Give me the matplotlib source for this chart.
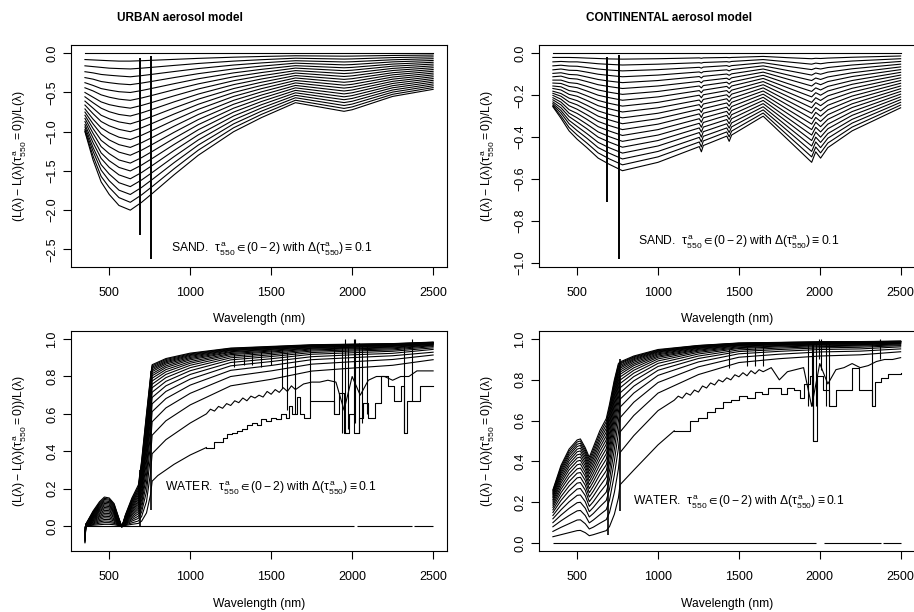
import numpy as np
import matplotlib
matplotlib.use("Agg")
import matplotlib.pyplot as plt
from matplotlib.ticker import MultipleLocator

plt.rcParams['font.family'] = ['Liberation Sans', 'DejaVu Sans']
plt.rcParams['mathtext.fontset'] = 'custom'
plt.rcParams['mathtext.rm'] = 'Liberation Sans'
plt.rcParams['mathtext.it'] = 'Liberation Sans'
plt.rcParams['mathtext.bf'] = 'Liberation Sans:bold'
plt.rcParams['mathtext.sf'] = 'Liberation Sans'
plt.rcParams['mathtext.fallback'] = 'stixsans'

# aerosol optical depth at 550 nm, one curve per value
tau = [0.0, 0.1, 0.2, 0.3, 0.4, 0.5, 0.6, 0.7, 0.8, 0.9, 1.0,
       1.1, 1.2, 1.3, 1.4, 1.5, 1.6, 1.7, 1.8, 1.9, 2.0]

# ---------------- URBAN / SAND ----------------
# each inner list: values of the 21 curves at one wavelength
urban_sand_wl = [350, 400, 450, 500, 560, 630, 700, 770, 900, 1050, 1268,
                 1440, 1650, 1950, 2000, 2250, 2500]
urban_sand_cols = [
    [0, -.08, -.16, -.235, -.31, -.375, -.44, -.5, -.555, -.61, -.66, -.71, -.75, -.79, -.83, -.87, -.91, -.94, -.97, -.99, -1.0],
    [0, -.085, -.17, -.25, -.33, -.41, -.48, -.56, -.63, -.7, -.77, -.84, -.9, -.96, -1.02, -1.08, -1.14, -1.2, -1.25, -1.31, -1.36],
    [0, -.09, -.18, -.27, -.36, -.45, -.53, -.62, -.7, -.79, -.87, -.95, -1.03, -1.11, -1.19, -1.27, -1.34, -1.42, -1.49, -1.57, -1.64],
    [0, -.095, -.19, -.28, -.375, -.47, -.56, -.655, -.745, -.835, -.925, -1.015, -1.105, -1.19, -1.28, -1.37, -1.455, -1.54, -1.625, -1.71, -1.8],
    [0, -.1, -.195, -.29, -.39, -.49, -.585, -.68, -.78, -.875, -.97, -1.07, -1.165, -1.26, -1.36, -1.455, -1.55, -1.65, -1.745, -1.84, -1.94],
    [0, -.1, -.2, -.3, -.4, -.5, -.6, -.7, -.8, -.9, -1.0, -1.1, -1.2, -1.3, -1.4, -1.5, -1.6, -1.7, -1.8, -1.9, -2.0],
    [0, -.095, -.19, -.285, -.38, -.475, -.57, -.665, -.76, -.855, -.95, -1.045, -1.14, -1.235, -1.33, -1.425, -1.52, -1.615, -1.71, -1.805, -1.9],
    [0, -.089, -.178, -.267, -.356, -.445, -.534, -.623, -.712, -.801, -.89, -.979, -1.068, -1.157, -1.246, -1.335, -1.424, -1.513, -1.602, -1.691, -1.78],
    [0, -.078, -.155, -.233, -.31, -.388, -.465, -.543, -.62, -.698, -.775, -.853, -.93, -1.008, -1.085, -1.163, -1.24, -1.318, -1.395, -1.473, -1.55],
    [0, -.065, -.13, -.195, -.26, -.325, -.39, -.455, -.52, -.585, -.65, -.715, -.78, -.845, -.91, -.975, -1.04, -1.105, -1.17, -1.235, -1.3],
    [0, -.05, -.1, -.15, -.2, -.25, -.3, -.35, -.4, -.45, -.5, -.55, -.6, -.65, -.7, -.75, -.8, -.85, -.9, -.95, -1.0],
    [0, -.041, -.082, -.123, -.164, -.205, -.246, -.287, -.328, -.369, -.41, -.451, -.492, -.533, -.574, -.615, -.656, -.697, -.738, -.779, -.82],
    [0, -.032, -.063, -.095, -.126, -.158, -.189, -.221, -.252, -.284, -.315, -.347, -.378, -.41, -.441, -.473, -.504, -.536, -.567, -.599, -.63],
    [0, -.037, -.074, -.111, -.148, -.185, -.222, -.259, -.296, -.333, -.37, -.407, -.444, -.481, -.518, -.555, -.592, -.629, -.666, -.703, -.74],
    [0, -.036, -.072, -.108, -.144, -.18, -.216, -.252, -.288, -.324, -.36, -.396, -.432, -.468, -.504, -.54, -.576, -.612, -.648, -.684, -.72],
    [0, -.028, -.055, -.083, -.11, -.138, -.165, -.193, -.22, -.248, -.275, -.303, -.33, -.358, -.385, -.413, -.44, -.468, -.495, -.523, -.55],
    [0, -.023, -.046, -.069, -.092, -.115, -.138, -.161, -.184, -.207, -.23, -.253, -.276, -.299, -.322, -.345, -.368, -.391, -.414, -.437, -.46],
]
# O2 absorption spikes: wavelength, upper and lower end
urban_sand_o2_wl = [687, 760]
urban_sand_o2_hi = [-0.06, -0.03]
urban_sand_o2_lo = [-2.32, -2.62]

# ---------------- CONTINENTAL / SAND ----------------
cont_sand_wl = [350, 400, 450, 500, 560, 630, 700, 780, 1000, 1255, 1268, 1280,
                1425, 1440, 1455, 1650, 1800, 1950, 1975, 2005, 2050, 2200, 2500]
cont_sand_cols = [
    [0, -.02, -.041, -.06, -.079, -.096, -.112, -.128, -.142, -.156, -.168, -.181, -.191, -.201, -.212, -.222, -.232, -.24, -.247, -.252, -.255],
    [0, -.02, -.039, -.057, -.075, -.093, -.109, -.128, -.144, -.16, -.175, -.192, -.205, -.219, -.233, -.246, -.26, -.273, -.285, -.299, -.31],
    [0, -.02, -.041, -.061, -.081, -.101, -.12, -.14, -.158, -.178, -.196, -.214, -.232, -.25, -.269, -.286, -.302, -.32, -.336, -.354, -.37],
    [0, -.021, -.041, -.062, -.082, -.103, -.123, -.144, -.164, -.185, -.205, -.226, -.246, -.267, -.287, -.308, -.328, -.349, -.369, -.39, -.41],
    [0, -.023, -.045, -.068, -.09, -.113, -.135, -.158, -.18, -.203, -.225, -.248, -.27, -.293, -.315, -.338, -.36, -.383, -.405, -.428, -.45],
    [0, -.025, -.05, -.075, -.1, -.125, -.15, -.175, -.2, -.225, -.25, -.275, -.3, -.325, -.35, -.375, -.4, -.425, -.45, -.475, -.5],
    [0, -.027, -.053, -.08, -.106, -.133, -.159, -.186, -.212, -.239, -.265, -.292, -.318, -.345, -.371, -.398, -.424, -.451, -.477, -.504, -.53],
    [0, -.028, -.056, -.084, -.112, -.14, -.168, -.196, -.224, -.252, -.28, -.308, -.336, -.364, -.392, -.42, -.448, -.476, -.504, -.532, -.56],
    [0, -.026, -.052, -.078, -.104, -.13, -.156, -.182, -.208, -.234, -.26, -.286, -.312, -.338, -.364, -.39, -.416, -.442, -.468, -.494, -.52],
    [0, -.022, -.045, -.067, -.089, -.111, -.134, -.156, -.178, -.2, -.223, -.245, -.267, -.289, -.312, -.334, -.356, -.378, -.401, -.423, -.445],
    [0, -.024, -.047, -.071, -.094, -.118, -.141, -.165, -.188, -.212, -.235, -.259, -.282, -.306, -.329, -.353, -.376, -.4, -.423, -.447, -.47],
    [0, -.022, -.044, -.066, -.088, -.11, -.132, -.154, -.176, -.198, -.22, -.242, -.264, -.286, -.308, -.33, -.352, -.374, -.396, -.418, -.44],
    [0, -.02, -.04, -.059, -.079, -.099, -.119, -.138, -.158, -.178, -.198, -.217, -.237, -.257, -.277, -.296, -.316, -.336, -.356, -.375, -.395],
    [0, -.021, -.042, -.063, -.084, -.105, -.126, -.147, -.168, -.189, -.21, -.231, -.252, -.273, -.294, -.315, -.336, -.357, -.378, -.399, -.42],
    [0, -.02, -.039, -.059, -.078, -.098, -.117, -.137, -.156, -.176, -.195, -.215, -.234, -.254, -.273, -.293, -.312, -.332, -.351, -.371, -.39],
    [0, -.015, -.03, -.045, -.06, -.075, -.09, -.105, -.12, -.135, -.15, -.165, -.18, -.195, -.21, -.225, -.24, -.255, -.27, -.285, -.3],
    [0, -.021, -.041, -.062, -.082, -.103, -.123, -.144, -.164, -.185, -.205, -.226, -.246, -.267, -.287, -.308, -.328, -.349, -.369, -.39, -.41],
    [0, -.026, -.052, -.078, -.104, -.13, -.156, -.182, -.208, -.234, -.26, -.286, -.312, -.338, -.364, -.39, -.416, -.442, -.468, -.494, -.52],
    [0, -.024, -.047, -.071, -.094, -.118, -.141, -.165, -.188, -.212, -.235, -.259, -.282, -.306, -.329, -.353, -.376, -.4, -.423, -.447, -.47],
    [0, -.025, -.05, -.075, -.1, -.125, -.15, -.175, -.2, -.225, -.25, -.275, -.3, -.325, -.35, -.375, -.4, -.425, -.45, -.475, -.5],
    [0, -.023, -.045, -.068, -.09, -.113, -.135, -.158, -.18, -.203, -.225, -.248, -.27, -.293, -.315, -.338, -.36, -.383, -.405, -.428, -.45],
    [0, -.019, -.037, -.056, -.074, -.093, -.111, -.13, -.148, -.167, -.185, -.204, -.222, -.241, -.259, -.278, -.296, -.315, -.333, -.352, -.37],
    [0, -.013, -.026, -.039, -.052, -.065, -.078, -.091, -.104, -.117, -.13, -.143, -.156, -.169, -.182, -.195, -.208, -.221, -.234, -.247, -.26],
]
cont_sand_o2_wl = [687, 760]
cont_sand_o2_hi = [-0.02, -0.01]
cont_sand_o2_lo = [-0.71, -0.98]

# ---------------- URBAN / WATER ----------------
urban_water_wl = [350, 356, 400, 440, 470, 500, 530, 560, 578, 600, 640, 680,
                  700, 730, 755, 765, 850, 1000, 1250, 1500, 1750, 2000, 2250, 2500]
urban_water_cols = [
    [0, -.005, -.009, -.014, -.018, -.023, -.027, -.032, -.036, -.041, -.045, -.05, -.054, -.059, -.063, -.068, -.072, -.077, -.081, -.086, -.09],
    [0, .001, .001, .002, .002, .003, .003, .004, .004, .005, .005, .006, .006, .007, .007, .008, .008, .009, .009, .01, .01],
    [0, .004, .008, .012, .016, .02, .024, .028, .032, .036, .04, .044, .048, .052, .056, .06, .064, .068, .072, .076, .08],
    [0, .007, .015, .022, .029, .036, .043, .05, .056, .063, .069, .076, .082, .088, .095, .101, .107, .113, .118, .124, .13],
    [0, .009, .018, .027, .035, .044, .052, .06, .068, .076, .084, .092, .099, .107, .114, .121, .128, .135, .142, .148, .155],
    [0, .009, .018, .026, .035, .043, .051, .059, .067, .075, .082, .09, .097, .104, .111, .118, .125, .131, .138, .144, .15],
    [0, .007, .014, .02, .027, .033, .039, .046, .052, .058, .064, .07, .076, .081, .087, .093, .098, .104, .109, .115, .12],
    [0, .002, .004, .006, .008, .01, .012, .014, .016, .018, .02, .022, .024, .026, .028, .03, .032, .034, .036, .038, .04],
    [0, 0, -.001, -.001, -.001, -.001, -.002, -.002, -.002, -.002, -.003, -.003, -.003, -.003, -.004, -.004, -.004, -.004, -.005, -.005, -.005],
    [0, .003, .006, .009, .012, .015, .018, .021, .024, .027, .03, .033, .036, .039, .042, .045, .048, .051, .054, .057, .06],
    [0, .009, .017, .026, .034, .042, .05, .058, .066, .074, .081, .088, .096, .103, .11, .117, .124, .13, .137, .144, .15],
    [0, .014, .027, .041, .053, .066, .078, .09, .101, .113, .124, .134, .145, .155, .165, .175, .184, .193, .202, .211, .22],
    [0, .026, .051, .075, .097, .119, .139, .159, .177, .195, .212, .229, .244, .259, .274, .288, .301, .314, .327, .339, .35],
    [0, .07, .131, .184, .231, .273, .311, .345, .376, .404, .429, .453, .474, .494, .513, .53, .546, .561, .575, .588, .6],
    [0, .167, .286, .375, .444, .5, .545, .583, .615, .643, .667, .688, .706, .722, .737, .75, .762, .773, .783, .792, .8],
    [0, .24, .387, .486, .558, .612, .654, .688, .716, .74, .759, .776, .791, .804, .815, .826, .835, .843, .85, .857, .863],
    [0, .3, .462, .563, .632, .682, .72, .75, .774, .794, .811, .825, .837, .848, .857, .866, .873, .879, .885, .891, .896],
    [0, .38, .551, .648, .71, .754, .786, .811, .831, .847, .86, .871, .88, .889, .896, .902, .908, .913, .917, .921, .925],
    [0, .5, .667, .75, .8, .833, .857, .875, .889, .9, .909, .917, .923, .929, .933, .938, .941, .944, .947, .95, .952],
    [0, .549, .709, .785, .83, .859, .88, .895, .907, .916, .924, .931, .936, .941, .945, .948, .951, .954, .956, .959, .961],
    [0, .617, .763, .829, .866, .89, .906, .919, .928, .936, .942, .947, .951, .954, .958, .96, .963, .965, .967, .968, .97],
    [0, .645, .784, .845, .879, .901, .916, .927, .936, .942, .948, .952, .956, .959, .962, .965, .967, .969, .97, .972, .973],
    [0, .671, .803, .86, .891, .911, .924, .935, .942, .948, .953, .957, .961, .964, .966, .968, .97, .972, .974, .975, .976],
    [0, .752, .84, .89, .915, .93, .945, .953, .96, .965, .968, .971, .973, .975, .977, .978, .98, .981, .982, .983, .984],
]
# tau = 0.1 curve read point by point beyond 765 nm (stair-stepped)
urban_water_t1_wl = [765, 800, 850, 900, 950, 1000, 1050, 1100, 1150, 1200,
                     1230, 1260, 1290, 1320, 1350, 1380, 1410, 1440, 1470, 1500,
                     1530, 1560, 1590, 1610, 1630, 1660, 1680, 1700, 1740, 1780,
                     1820, 1860, 1890, 1920, 1950, 1980, 2010, 2040, 2070, 2100,
                     2140, 2180, 2220, 2260, 2300, 2320, 2340, 2380, 2420, 2460, 2500]
urban_water_t1 = [.24, .27, .30, .33, .355, .38, .40, .42, .45, .47,
                  .49, .50, .51, .52, .54, .55, .54, .57, .56, .58,
                  .57, .60, .58, .64, .60, .69, .60, .58, .67, .67,
                  .67, .67, .60, .71, .50, .60, .50, .58, .66, .58,
                  .66, .80, .75, .67, .75, .50, .67, .67, .75, .75, .75]
# tau = 0.2 curve read point by point beyond 765 nm (saw-toothed)
urban_water_t2_wl = [765, 850, 1000, 1100, 1125, 1150, 1175, 1200, 1225, 1250,
                     1275, 1300, 1325, 1350, 1375, 1400, 1425, 1450, 1475, 1500,
                     1525, 1550, 1575, 1600, 1625, 1650, 1700, 1750, 1800, 1850,
                     1900, 1950, 2000, 2050, 2100, 2150, 2200, 2250, 2300, 2350,
                     2400, 2450, 2500]
urban_water_t2 = [.387, .462, .551, .60, .625, .615, .64, .63, .655, .645,
                  .67, .66, .685, .67, .695, .685, .70, .69, .72, .705,
                  .73, .715, .74, .72, .75, .73, .76, .77, .77, .78,
                  .77, .62, .80, .70, .78, .80, .80, .78, .80, .80,
                  .83, .83, .83]
urban_water_spike_wl = [1270, 1330, 1380, 1440, 1500, 1565, 1600, 1650, 1740, 1890,
                        1940, 1955, 1975, 2010, 2020, 2045, 2060, 2090, 2320, 2370]
urban_water_spike_lo = [.85, .86, .86, .85, .86, .74, .62, .60, .67, .60,
                        .50, .50, .52, .60, .55, .50, .55, .60, .50, .67]
urban_water_spike_hi = [.92, .92, .93, .93, .94, .95, .93, .93, .96, .97,
                        .97, 1.0, .97, 1.0, 1.0, .98, .97, .97, .97, 1.0]
urban_water_o2_wl = [687, 760]
urban_water_o2_lo = [0.0, 0.086]
urban_water_o2_hi = [0.30, 0.83]
urban_water_zero_from = [350, 2030, 2385]
urban_water_zero_to = [2010, 2370, 2500]

# ---------------- CONTINENTAL / WATER ----------------
cont_water_wl = [350, 400, 450, 500, 520, 550, 575, 600, 640, 680, 700, 730, 755,
                 765, 850, 1000, 1250, 1500, 1750, 2000, 2250, 2500]
cont_water_cols = [
    [0, .03, .056, .079, .099, .118, .134, .149, .162, .174, .185, .195, .205, .213, .222, .229, .236, .243, .249, .255, .26],
    [0, .04, .076, .108, .136, .162, .186, .208, .227, .246, .263, .278, .293, .306, .319, .331, .342, .352, .362, .371, .38],
    [0, .05, .094, .134, .169, .201, .229, .256, .279, .301, .322, .34, .358, .374, .388, .402, .415, .428, .439, .45, .46],
    [0, .06, .112, .157, .197, .233, .264, .293, .319, .342, .363, .383, .401, .417, .432, .447, .46, .473, .484, .495, .505],
    [0, .061, .113, .159, .199, .235, .267, .296, .322, .345, .367, .387, .405, .421, .436, .451, .465, .478, .489, .5, .51],
    [0, .05, .094, .134, .17, .202, .232, .259, .283, .306, .327, .345, .363, .379, .394, .408, .421, .434, .446, .457, .467],
    [0, .035, .068, .098, .127, .153, .179, .202, .225, .246, .266, .285, .303, .32, .337, .352, .367, .381, .395, .408, .42],
    [0, .04, .077, .112, .144, .174, .202, .229, .254, .278, .3, .321, .341, .36, .378, .395, .412, .427, .442, .456, .47],
    [0, .05, .096, .138, .177, .213, .247, .278, .307, .335, .36, .384, .407, .428, .449, .468, .486, .503, .519, .535, .55],
    [0, .06, .114, .163, .208, .249, .287, .322, .354, .383, .411, .437, .461, .484, .505, .525, .544, .562, .579, .595, .61],
    [0, .08, .149, .21, .264, .311, .354, .392, .427, .459, .487, .514, .538, .561, .581, .601, .619, .635, .651, .666, .68],
    [0, .14, .247, .333, .402, .459, .507, .548, .583, .614, .641, .665, .686, .706, .723, .739, .754, .767, .779, .79, .8],
    [0, .22, .363, .464, .539, .597, .643, .68, .711, .738, .76, .779, .796, .811, .824, .836, .847, .856, .865, .873, .88],
    [0, .285, .443, .544, .614, .666, .705, .736, .761, .782, .799, .814, .827, .838, .848, .857, .864, .871, .878, .883, .888],
    [0, .357, .526, .625, .69, .735, .769, .795, .816, .833, .847, .859, .87, .878, .886, .893, .899, .904, .909, .913, .917],
    [0, .481, .649, .735, .787, .822, .847, .866, .881, .893, .903, .911, .917, .923, .928, .933, .937, .94, .943, .946, .949],
    [0, .613, .76, .826, .864, .888, .905, .917, .927, .935, .941, .946, .95, .954, .957, .96, .962, .964, .966, .968, .969],
    [0, .719, .837, .885, .911, .928, .939, .947, .954, .958, .962, .966, .969, .971, .973, .975, .976, .978, .979, .98, .981],
    [0, .758, .862, .904, .926, .94, .949, .956, .962, .966, .969, .972, .974, .976, .978, .979, .98, .982, .983, .983, .984],
    [0, .787, .881, .917, .937, .949, .957, .963, .967, .971, .974, .976, .978, .98, .981, .982, .983, .984, .985, .986, .987],
    [0, .8, .889, .923, .941, .952, .96, .966, .97, .973, .976, .978, .98, .981, .982, .984, .985, .986, .986, .987, .988],
    [0, .833, .909, .938, .952, .962, .968, .972, .976, .978, .98, .982, .984, .985, .986, .987, .988, .988, .989, .99, .99],
]
cont_water_t1_wl = [765, 850, 1000, 1100, 1200, 1250, 1300, 1350, 1400, 1450,
                    1500, 1550, 1600, 1640, 1680, 1720, 1760, 1800, 1840, 1880,
                    1900, 1940, 1960, 1980, 2020, 2060, 2100, 2150, 2200, 2240,
                    2280, 2320, 2340, 2380, 2420, 2460, 2500]
cont_water_t1 = [.285, .357, .481, .55, .60, .613, .64, .66, .69, .70,
                 .72, .71, .74, .73, .76, .76, .73, .76, .75, .71,
                 .78, .82, .50, .82, .75, .67, .75, .75, .86, .75,
                 .75, .67, .79, .81, .83, .83, .833]
cont_water_t2_wl = [765, 850, 1000, 1100, 1125, 1150, 1175, 1200, 1225, 1250,
                    1275, 1300, 1325, 1350, 1375, 1400, 1425, 1450, 1475, 1500,
                    1525, 1550, 1575, 1600, 1625, 1650, 1700, 1750, 1800, 1850,
                    1900, 1950, 2000, 2050, 2100, 2150, 2200, 2250, 2300, 2350,
                    2400, 2450, 2500]
cont_water_t2 = [.443, .526, .649, .70, .72, .71, .735, .725, .75, .74,
                 .77, .76, .785, .775, .80, .79, .81, .80, .825, .815,
                 .835, .82, .845, .83, .85, .84, .86, .80, .84, .85,
                 .86, .67, .88, .78, .85, .86, .88, .86, .87, .89,
                 .90, .90, .909]
cont_water_spike_wl = [1440, 1550, 1600, 1650, 1930, 1950, 1960, 1975, 1995, 2005,
                       2040, 2060, 2320, 2375]
cont_water_spike_lo = [.86, .87, .87, .87, .67, .67, .50, .67, .90, .85,
                       .67, .67, .67, .90]
cont_water_spike_hi = [.95, .96, .96, .97, .98, .98, .98, .98, 1.0, 1.0,
                       .98, .98, .98, 1.0]
cont_water_o2_wl = [690, 762]
cont_water_o2_lo = [0.04, 0.155]
cont_water_o2_hi = [0.62, 0.90]
cont_water_zero_from = [350, 2025, 2390]
cont_water_zero_to = [1975, 2378, 2500]

LW = 0.8
YLAB = r'$(\mathrm{L}(\lambda) - \mathrm{L}(\lambda)(\tau_{550}^{a} = 0))/\mathrm{L}(\lambda)$'
NOTE = r'{}.  $\tau_{{550}}^{{a}} \in (0 - 2)$ with $\Delta(\tau_{{550}}^{{a}}) \equiv 0.1$'


def r_range(lo, hi):
    pad = 0.04 * (hi - lo)
    return lo - pad, hi + pad


def style(ax, ystep, xlab_y):
    ax.xaxis.set_major_locator(MultipleLocator(500))
    ax.yaxis.set_major_locator(MultipleLocator(ystep))
    ax.tick_params(direction='out', length=5.5, width=0.8,
                   labelsize=9, top=False, right=False)
    ax.tick_params(axis='x', pad=9)
    ax.tick_params(axis='y', pad=3.5, labelrotation=90)
    for lab in ax.get_yticklabels():
        lab.set_verticalalignment('center')
    for sp in ax.spines.values():
        sp.set_linewidth(0.8)
    ax.set_xlabel('Wavelength (nm)', fontsize=8.7, va='center')
    ax.xaxis.set_label_coords(0.5, xlab_y)
    ax.set_ylabel(YLAB, fontsize=8.7, va='center')
    ax.yaxis.set_label_coords(-0.135, 0.5)


def sand_panel(ax, wl, cols, o2_wl, o2_hi, o2_lo, ystep, note_y):
    curves = np.array(cols).T
    for row in curves:
        ax.plot(wl, row, color='black', lw=LW)
    ax.vlines(o2_wl, o2_lo, o2_hi, color='black', lw=1.4)
    ax.set_xlim(*r_range(min(wl), max(wl)))
    ax.set_ylim(*r_range(min(curves.min(), min(o2_lo)), curves.max()))
    ax.text(1500, note_y, NOTE.format('SAND'), ha='center', va='center', fontsize=8.7)
    style(ax, ystep, -0.234)


def water_panel(ax, wl, cols, t1_wl, t1, t2_wl, t2, spk_wl, spk_lo, spk_hi,
                o2_wl, o2_lo, o2_hi, z_from, z_to):
    wl = np.array(wl)
    curves = np.array(cols).T
    left = wl < 765
    # tau = 0.1: smooth up to 1100 nm, stair-stepped afterwards
    x1 = np.concatenate([wl[left], t1_wl])
    y1 = np.concatenate([curves[1][left], t1])
    cut = int(np.searchsorted(x1, 1100))
    ax.plot(x1[:cut + 1], y1[:cut + 1], color='black', lw=LW)
    ax.plot(x1[cut:], y1[cut:], color='black', lw=LW, drawstyle='steps-post')
    # tau = 0.2
    ax.plot(np.concatenate([wl[left], t2_wl]), np.concatenate([curves[2][left], t2]),
            color='black', lw=LW)
    for row in curves[3:]:
        ax.plot(wl, row, color='black', lw=LW)
    ax.hlines(np.zeros(len(z_from)), z_from, z_to, color='black', lw=LW)
    ax.vlines(spk_wl, spk_lo, spk_hi, color='black', lw=LW)
    ax.vlines(o2_wl, o2_lo, o2_hi, color='black', lw=1.2)
    ymin = min(curves.min(), 0)
    ymax = max(curves.max(), max(spk_hi))
    ax.set_xlim(*r_range(wl.min(), wl.max()))
    ax.set_ylim(*r_range(ymin, ymax))
    ax.text(1500, 0.2, NOTE.format('WATER'), ha='center', va='center', fontsize=8.7)
    style(ax, 0.2, -0.241)


fig = plt.figure(figsize=(9.14, 6.12), dpi=100)
ax1 = fig.add_axes([0.0777, 0.5637, 0.4114, 0.3627])
ax2 = fig.add_axes([0.5897, 0.5637, 0.4109, 0.3627])
ax3 = fig.add_axes([0.0777, 0.0997, 0.4114, 0.3595])
ax4 = fig.add_axes([0.5897, 0.0997, 0.4109, 0.3595])

sand_panel(ax1, urban_sand_wl, urban_sand_cols, urban_sand_o2_wl,
           urban_sand_o2_hi, urban_sand_o2_lo, 0.5, -2.5)
sand_panel(ax2, cont_sand_wl, cont_sand_cols, cont_sand_o2_wl,
           cont_sand_o2_hi, cont_sand_o2_lo, 0.2, -0.9)
water_panel(ax3, urban_water_wl, urban_water_cols,
            urban_water_t1_wl, urban_water_t1, urban_water_t2_wl, urban_water_t2,
            urban_water_spike_wl, urban_water_spike_lo, urban_water_spike_hi,
            urban_water_o2_wl, urban_water_o2_lo, urban_water_o2_hi,
            urban_water_zero_from, urban_water_zero_to)
water_panel(ax4, cont_water_wl, cont_water_cols,
            cont_water_t1_wl, cont_water_t1, cont_water_t2_wl, cont_water_t2,
            cont_water_spike_wl, cont_water_spike_lo, cont_water_spike_hi,
            cont_water_o2_wl, cont_water_o2_lo, cont_water_o2_hi,
            cont_water_zero_from, cont_water_zero_to)

fig.text(0.197, 0.9706, 'URBAN aerosol model', ha='center', va='center',
         fontsize=8.5, fontweight='bold')
fig.text(0.732, 0.9706, 'CONTINENTAL aerosol model', ha='center', va='center',
         fontsize=8.5, fontweight='bold')

fig.savefig('out.png', dpi=100)
